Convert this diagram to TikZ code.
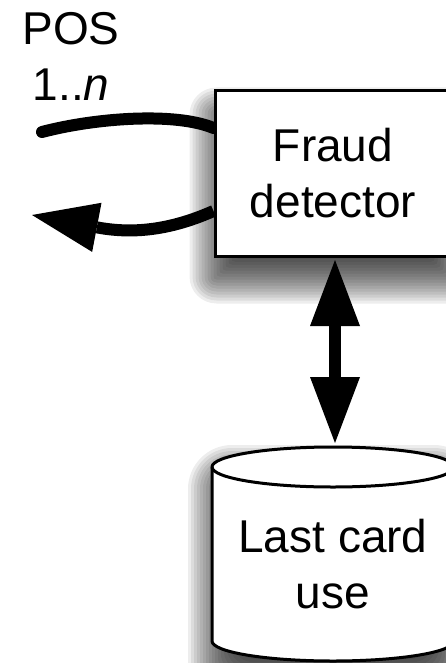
\documentclass[tikz,border=0pt]{standalone}
\usepackage{fontspec}
\setmainfont{Liberation Sans}
\usetikzlibrary{arrows.meta,backgrounds,calc}

\tikzset{
  big/.style={font=\fontsize{46pt}{56pt}\selectfont, align=center, inner sep=0pt},
  procbox/.style={rectangle, draw, line width=3pt, fill=white,
      minimum width=236pt, minimum height=165pt, big},
  store/.style={draw, line width=3pt, fill=white},
  flow/.style={line width=12pt},
  fathead/.tip={Triangle[length=66pt,width=50pt,line width=0pt,fill=black]},
  shadelayer/.style={fill=black, opacity=0.07},
}

% soft drop shadow: stacked translucent rounded rectangles, shifted down
% #1 = lower left corner, #2 = upper right corner, #3 = extra corner rounding
\newcommand\dropshade[3]{%
  \foreach \e in {-24,-21,...,24}{%
    \pgfmathsetmacro\sx{-(\e)}%
    \pgfmathsetmacro\lo{-22-(\e)}%
    \pgfmathsetmacro\hi{-22+(\e)}%
    \pgfmathsetmacro\rr{max(\e,0)+#3}%
    \fill[shadelayer, rounded corners=\rr pt]
      ($(#1)+(\sx,\lo)$) rectangle ($(#2)+(\e,\hi)$);}}

\begin{document}
\begin{tikzpicture}[x=1pt,y=1pt]
  \useasboundingbox (0,0) rectangle (446,-663);
  \clip (0,0) rectangle (446,-663);

  % process box
  \node[procbox] (fd) at (333,-173.5) {Fraud\\detector};

  % POS label
  \node[big] (pos) at (71,-56.5) {POS\\1..\textit{n}};

  % database cylinder
  \coordinate (cylsw) at (212,-661);
  \coordinate (cylne) at (454,-447);
  \path[store] (212,-467) -- (212,-641)
    arc[start angle=180, end angle=360, x radius=121pt, y radius=20pt]
    -- (454,-467)
    arc[start angle=0, end angle=180, x radius=121pt, y radius=20pt] -- cycle;
  \draw[line width=3pt] (212,-467)
    arc[start angle=180, end angle=360, x radius=121pt, y radius=20pt];
  \node[big] (db) at (333,-564) {Last card\\use};
  \coordinate (dbtop) at (335,-445.5);

  % free ends of the request / reply curves
  \coordinate (posin) at (42,-132);
  \coordinate (posout) at (32,-215);

  \begin{scope}[on background layer]
    \dropshade{fd.south west}{fd.north east}{3}
    \dropshade{cylsw}{cylne}{20}
    \draw[flow, line cap=round] (posin)
      .. controls (95,-118) and (175,-112) .. ($(fd.west)+(0,45.5)$);
    \draw[flow, -fathead] ($(fd.west)+(0,-37.5)$)
      .. controls (175,-228) and (137,-235) .. (posout);
  \end{scope}

  % lookup between detector and store
  \draw[flow, fathead-fathead, shorten <=2.5pt, shorten >=2.5pt]
    ([xshift=2pt]fd.south) -- (dbtop);
\end{tikzpicture}
\end{document}
